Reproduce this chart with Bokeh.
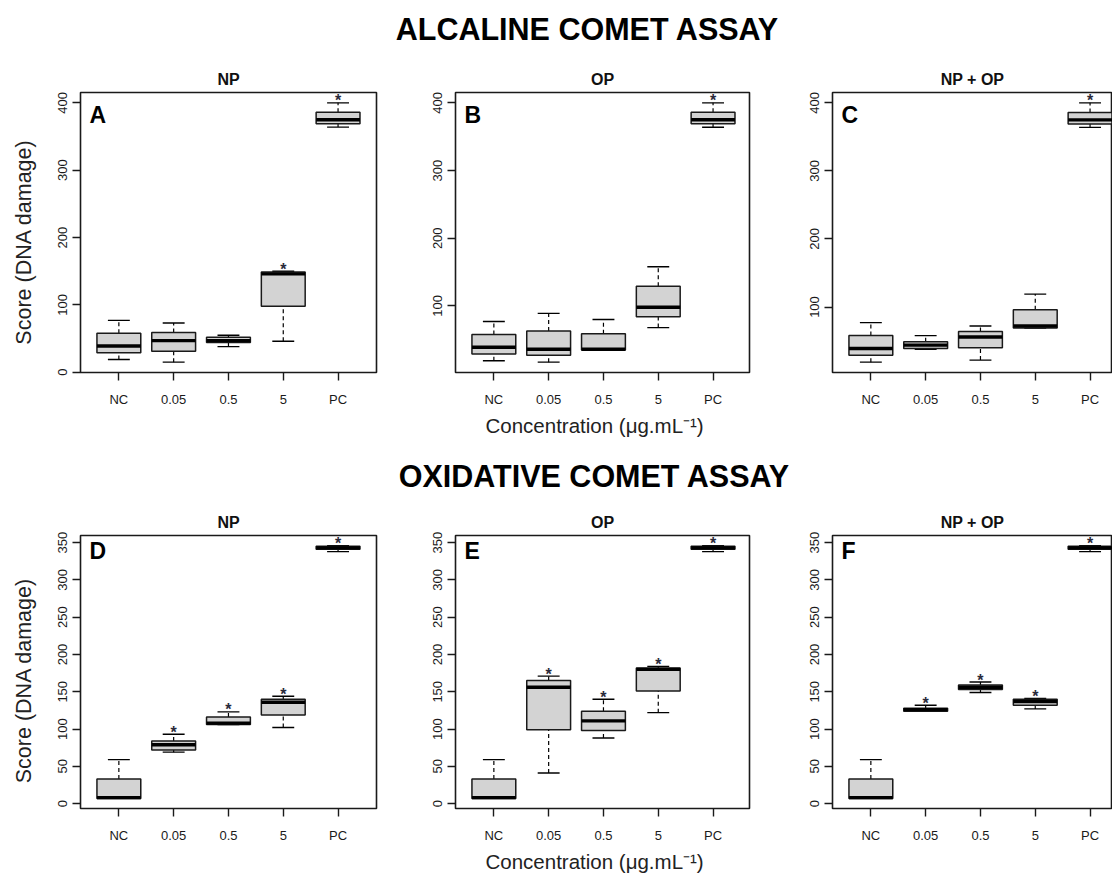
import math
from bokeh.plotting import figure
from bokeh.layouts import row, column
from bokeh.models import Range1d, FixedTicker, Title, Label, ColumnDataSource
from bokeh.embed import file_html
from bokeh.resources import INLINE
from bokeh.core.properties import value

FONT = "Liberation Sans"

categories = ["NC", "0.05", "0.5", "5", "PC"]
cat_pos = [1, 2, 3, 4, 5]

# ---- Alkaline comet assay (boxplot stats: lower whisker, Q1, median, Q3, upper whisker)
A_low = [19, 15, 38, 46, 364]
A_q1 = [29, 31, 44, 98, 369]
A_med = [39, 47, 47, 146, 375]
A_q3 = [58, 59, 52, 149, 386]
A_high = [77, 73, 55, 150, 400]
A_sig = [0, 0, 0, 1, 1]

B_low = [19, 17, 35, 68, 364]
B_q1 = [29, 27, 35, 84, 369]
B_med = [39, 36, 36, 98, 375]
B_q3 = [58, 63, 59, 129, 386]
B_high = [77, 89, 80, 158, 400]
B_sig = [0, 0, 0, 0, 1]

C_low = [19, 38, 22, 69, 364]
C_q1 = [29, 39, 40, 69, 369]
C_med = [39, 44, 56, 72, 375]
C_q3 = [58, 49, 64, 96, 386]
C_high = [77, 58, 72, 119, 400]
C_sig = [0, 0, 0, 0, 1]

# ---- Oxidative comet assay
D_low = [7, 69, 106, 102, 338]
D_q1 = [7, 72, 106, 119, 341]
D_med = [8, 79, 108, 136, 343]
D_q3 = [33, 84, 116, 140, 345]
D_high = [59, 93, 123, 144, 346]
D_sig = [0, 1, 1, 1, 1]

E_low = [7, 41, 88, 122, 338]
E_q1 = [7, 99, 98, 151, 341]
E_med = [8, 156, 111, 180, 343]
E_q3 = [33, 165, 124, 182, 345]
E_high = [59, 171, 140, 184, 346]
E_sig = [0, 1, 1, 1, 1]

F_low = [7, 124, 149, 127, 338]
F_q1 = [7, 124, 153, 132, 341]
F_med = [8, 126, 156, 137, 343]
F_q3 = [33, 128, 159, 140, 345]
F_high = [59, 132, 163, 141, 346]
F_sig = [0, 1, 1, 1, 1]

ticks_alk = [0, 100, 200, 300, 400]
ticks_oxi = [0, 50, 100, 150, 200, 250, 300, 350]

FRAME_H = 280
PX_PER_UNIT = 54.8
YLAB_W = 40


def panel(letter, title, low, q1, med, q3, high, sig, yticks, width, bl, br, top, bottom,
          xlabel=False):
    frame_w = width - bl - br
    lo, hi = min(low), max(high)
    pad = 0.04 * (hi - lo)
    x_end = 0.3 + frame_w / PX_PER_UNIT
    p = figure(width=width, height=top + FRAME_H + bottom,
               x_range=Range1d(0.3, x_end), y_range=Range1d(lo - pad, hi + pad),
               output_backend="svg", toolbar_location=None,
               min_border_left=bl, min_border_right=br, min_border_top=top, min_border_bottom=bottom)
    p.xgrid.visible = False
    p.ygrid.visible = False
    p.outline_line_color = "#1a1a1a"
    p.outline_line_width = 1.6
    p.background_fill_color = "white"
    p.border_fill_color = "white"

    p.title.text = title
    p.title.align = "center"
    p.title.text_font = FONT
    p.title.text_font_size = "16px"
    p.title.text_font_style = "bold"
    p.title.text_color = "#111111"
    p.title.standoff = 9

    for ax in (p.xaxis[0], p.yaxis[0]):
        ax.axis_line_color = None
        ax.major_tick_out = 8
        ax.major_tick_in = 0
        ax.minor_tick_line_color = None
        ax.major_tick_line_color = "#1a1a1a"
        ax.major_tick_line_width = 1.4
        ax.major_label_text_font = FONT
        ax.major_label_text_font_size = "13px"
        ax.major_label_text_color = "#1a1a1a"
    p.xaxis.ticker = FixedTicker(ticks=cat_pos)
    p.xaxis.major_label_overrides = {c: n for c, n in zip(cat_pos, categories)}
    p.xaxis.major_label_standoff = 11
    p.yaxis.ticker = FixedTicker(ticks=yticks)
    p.yaxis.major_label_orientation = "vertical"
    p.yaxis.major_label_standoff = 5

    src = ColumnDataSource(dict(
        x=cat_pos, low=low, q1=q1, med=med, q3=q3, high=high,
        xl=[c - 0.4 for c in cat_pos], xr=[c + 0.4 for c in cat_pos],
        cl=[c - 0.2 for c in cat_pos], cr=[c + 0.2 for c in cat_pos]))
    p.segment(x0="x", y0="q3", x1="x", y1="high", line_dash="4 3", line_color="black",
              line_width=1.2, source=src)
    p.segment(x0="x", y0="low", x1="x", y1="q1", line_dash="4 3", line_color="black",
              line_width=1.2, source=src)
    p.segment(x0="cl", y0="high", x1="cr", y1="high", line_color="black", line_width=1.4, source=src)
    p.segment(x0="cl", y0="low", x1="cr", y1="low", line_color="black", line_width=1.4, source=src)
    p.vbar(x="x", width=0.8, bottom="q1", top="q3", fill_color="#D3D3D3",
           line_color="#1a1a1a", line_width=1.5, source=src)
    p.segment(x0="xl", y0="med", x1="xr", y1="med", line_color="black", line_width=3.4, source=src)

    sx = [c for c, s in zip(cat_pos, sig) if s]
    sy = [h for h, s in zip(high, sig) if s]
    p.text(x=sx, y=sy, text=["*"] * len(sx), text_align="center", text_baseline="alphabetic",
           y_offset=-2, text_font=value(FONT), text_font_size="16px", text_font_style="bold",
           text_color="#2a2a3a")

    p.add_layout(Label(x=9, y=FRAME_H - 9, x_units="screen", y_units="screen", text=letter,
                       text_font=FONT, text_font_size="23px", text_font_style="bold",
                       text_baseline="top", text_align="left", text_color="black"))

    if xlabel:
        p.add_layout(Title(text="Concentration (\u03bcg.mL\u207b\u00b9)", align="left", offset=30,
                           text_font=FONT, text_font_size="20.5px", text_font_style="normal",
                           text_color="#222222", standoff=4), "below")
    return p


def blank(width, height):
    f = figure(width=width, height=height, x_range=Range1d(0, width), y_range=Range1d(0, height),
               output_backend="svg", toolbar_location=None, min_border=0,
               x_axis_type=None, y_axis_type=None)
    f.xgrid.visible = False
    f.ygrid.visible = False
    f.outline_line_color = None
    f.background_fill_color = "white"
    f.border_fill_color = "white"
    return f


def header(text, h, cy, cx):
    hp = blank(1112, h)
    hp.add_layout(Label(x=cx, y=h - cy, text=text, text_align="center", text_baseline="middle",
                        text_font=FONT, text_font_size="30.5px", text_font_style="bold",
                        text_color="black"))
    return hp


def ylabel_strip(height, cy):
    f = blank(YLAB_W, height)
    f.add_layout(Label(x=23, y=height - cy, text="Score (DNA damage)", angle=math.pi / 2,
                       text_align="center", text_baseline="middle",
                       text_font=FONT, text_font_size="21.5px", text_color="#222222"))
    return f


h1 = header("ALCALINE COMET ASSAY", 60, 28, 587)
yl1 = ylabel_strip(388, 207)
pA = panel("A", "NP", A_low, A_q1, A_med, A_q3, A_high, A_sig, ticks_alk, 380 - YLAB_W, 80 - YLAB_W, 4, 32, 76)
pB = panel("B", "OP", B_low, B_q1, B_med, B_q3, B_high, B_sig, ticks_alk, 380, 75, 11, 32, 76,
           xlabel=True)
pC = panel("C", "NP + OP", C_low, C_q1, C_med, C_q3, C_high, C_sig, ticks_alk, 352, 72, 0, 32, 76)

h2 = header("OXIDATIVE COMET ASSAY", 55, 27, 594)
yl2 = ylabel_strip(371, 197)
pD = panel("D", "NP", D_low, D_q1, D_med, D_q3, D_high, D_sig, ticks_oxi, 380 - YLAB_W, 80 - YLAB_W, 4, 32, 59)
pE = panel("E", "OP", E_low, E_q1, E_med, E_q3, E_high, E_sig, ticks_oxi, 380, 75, 11, 32, 59,
           xlabel=True)
pF = panel("F", "NP + OP", F_low, F_q1, F_med, F_q3, F_high, F_sig, ticks_oxi, 352, 72, 0, 32, 59)

layout = column(h1, row(yl1, pA, pB, pC), h2, row(yl2, pD, pE, pF))

open("out.html", "w").write(file_html(layout, INLINE))
